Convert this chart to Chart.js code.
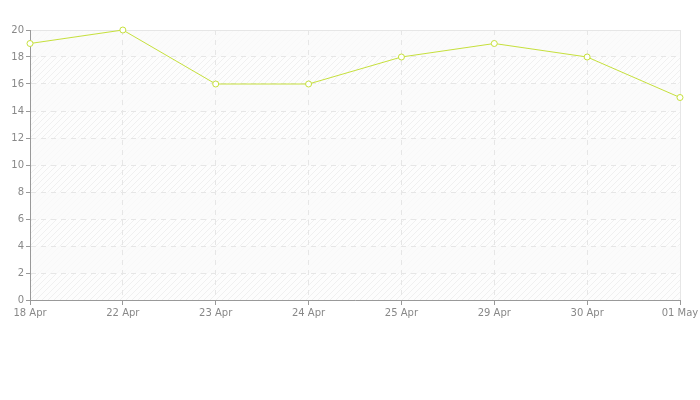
<!DOCTYPE html>
<html>
<head>
<meta charset="utf-8">
<script src="https://cdn.jsdelivr.net/npm/chart.js@4"></script>
<style>
  html, body { margin: 0; padding: 0; background: #fff; }
  #wrap { width: 700px; height: 400px; }
</style>
</head>
<body>
<div id="wrap"><canvas id="chart" width="700" height="400"></canvas></div>
<script>
const dateLabels = ['18 Apr', '22 Apr', '23 Apr', '24 Apr', '25 Apr', '29 Apr', '30 Apr', '01 May'];
const seriesValues = [19, 20, 16, 16, 18, 19, 18, 15];
const yTicks = [0, 2, 4, 6, 8, 10, 12, 14, 16, 18, 20];

// hatched background with alternating bands
function makeHatch(ctx) {
    const c = document.createElement('canvas');
    c.width = 6; c.height = 6;
    const p = c.getContext('2d');
    p.strokeStyle = '#f0f0f0';
    p.lineWidth = 1;
    p.beginPath();
    p.moveTo(0, 6); p.lineTo(6, 0);
    p.moveTo(-3, 3); p.lineTo(3, -3);
    p.moveTo(3, 9); p.lineTo(9, 3);
    p.stroke();
    return ctx.createPattern(c, 'repeat');
}

const bgPlugin = {
    id: 'bgPlugin',
    beforeDraw(chart) {
        const { ctx, chartArea: a, scales } = chart;
        ctx.save();
        ctx.fillStyle = '#fdfdfd';
        ctx.fillRect(a.left, a.top, a.right - a.left, a.bottom - a.top);
        ctx.fillStyle = makeHatch(ctx);
        ctx.fillRect(a.left, a.top, a.right - a.left, a.bottom - a.top);
        // lighter plain bands every other interval
        ctx.fillStyle = 'rgba(250,250,250,0.8)';
        for (let i = 0; i < yTicks.length - 1; i++) {
            if (i % 2 === 1) {
                const y1 = scales.y.getPixelForValue(yTicks[i + 1]);
                const y0 = scales.y.getPixelForValue(yTicks[i]);
                ctx.fillRect(a.left, y1, a.right - a.left, y0 - y1);
            }
        }
        // top and right frame
        ctx.strokeStyle = '#e6e6e6';
        ctx.lineWidth = 1;
        ctx.beginPath();
        ctx.moveTo(a.left, a.top + 0.5); ctx.lineTo(a.right + 0.5, a.top + 0.5);
        ctx.lineTo(a.right + 0.5, a.bottom);
        ctx.stroke();
        ctx.restore();
    }
};

new Chart(document.getElementById('chart'), {
    type: 'line',
    data: {
        labels: dateLabels,
        datasets: [{
            data: seriesValues,
            borderColor: '#c6e03c',
            backgroundColor: '#ffffff',
            borderWidth: 1,
            pointRadius: 3,
            pointBorderWidth: 1,
            pointBackgroundColor: '#ffffff',
            pointBorderColor: '#c6e03c',
            tension: 0,
            fill: false,
            clip: false
        }]
    },
    options: {
        responsive: false,
        animation: false,
        layout: { padding: { top: 30, right: 20, bottom: 78, left: 0 } },
        plugins: { legend: { display: false }, tooltip: { enabled: false } },
        scales: {
            x: {
                offset: false,
                grid: {
                    color: '#e6e6e6',
                    drawOnChartArea: true,
                    drawTicks: true,
                    tickLength: 5,
                    tickColor: '#999999'
                },
                border: { color: '#999999', dash: [5, 5], display: true },
                ticks: {
                    color: '#888888',
                    font: { family: 'DejaVu Sans', size: 10 },
                    maxRotation: 0,
                    autoSkip: false,
                    padding: 2
                },
                afterFit(scale) { scale.height = 22; scale.paddingLeft = 0; scale.paddingRight = 0; }
            },
            y: {
                min: 0,
                max: 20,
                afterBuildTicks(scale) { scale.ticks = yTicks.map(v => ({ value: v })); },
                grid: {
                    color: '#e6e6e6',
                    tickLength: 4,
                    tickColor: '#999999'
                },
                border: { color: '#999999', dash: [5, 5] },
                ticks: {
                    color: '#888888',
                    font: { family: 'DejaVu Sans', size: 10 },
                    padding: 2
                },
                afterFit(scale) { scale.width = 30; scale.paddingTop = 0; scale.paddingBottom = 0; }
            }
        }
    },
    plugins: [bgPlugin]
});
</script>
</body>
</html>
